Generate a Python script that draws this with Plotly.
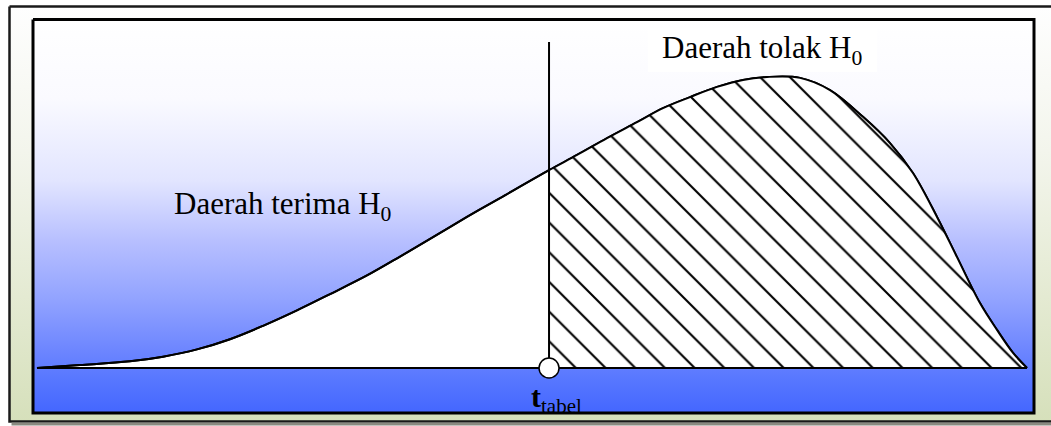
import plotly.graph_objects as go

# ---------------- data (schematic t-distribution) ----------------
t_values = [0.0, 0.434, 0.939, 1.273, 1.616, 1.949, 2.283, 2.626, 2.960, 3.333, 3.667,
            4.000, 4.343, 4.677, 5.172, 5.455, 5.758, 6.061, 6.323, 6.596, 6.869,
            7.131, 7.374, 7.707, 8.010, 8.343, 8.616, 8.848, 9.091, 9.293, 9.525,
            9.697, 9.859, 10.0]
density = [0.0, 0.010, 0.023, 0.039, 0.064, 0.099, 0.145, 0.198, 0.254, 0.318, 0.383,
           0.450, 0.519, 0.584, 0.680, 0.732, 0.790, 0.845, 0.893, 0.931, 0.966,
           0.990, 1.000, 0.997, 0.955, 0.863, 0.773, 0.670, 0.519, 0.381, 0.223,
           0.131, 0.052, 0.0]
t_crit = 5.172
crit_line_top = 1.12

label_accept = "Daerah terima H<sub>0</sub>"
label_reject = "Daerah tolak H<sub>0</sub>"
label_crit = "<b>t</b><sub>tabel</sub>"

# ---------------- layout constants ----------------
W, H = 1051, 426
OUTER = dict(x0=9.5, x1=1080, y0=6.5, y1=421.5)
INNER = dict(x0=33, x1=1034, y0=19.5, y1=413)
FONT = "Liberation Serif, Times New Roman, serif"

# data axis mapping: t=0 -> px 37, t=10 -> px 1027 ; density 0 -> py 368, 1 -> py 77
PX_PER_T = 99.0
PX_PER_D = 291.0
x2_range = [-37 / PX_PER_T, (W - 37) / PX_PER_T]
y2_range = [-(H - 368) / PX_PER_D, 368 / PX_PER_D]

fig = go.Figure()


def rect_xy(r):
    return ([r["x0"], r["x1"], r["x1"], r["x0"], r["x0"]],
            [r["y0"], r["y0"], r["y1"], r["y1"], r["y0"]])


# outer frame with gradient
ox, oy = rect_xy(OUTER)
fig.add_trace(go.Scatter(
    x=ox, y=oy, mode="lines", fill="toself",
    line=dict(color="#1a1a1a", width=2.5),
    fillgradient=dict(type="vertical",
                      colorscale=[[0, "#fefefe"], [0.35, "#f3f5ec"], [0.7, "#e4ead2"], [1, "#d6e0bb"]],
                      start=OUTER["y0"], stop=OUTER["y1"]),
    hoverinfo="skip", showlegend=False, xaxis="x", yaxis="y"))

# shadow line under outer frame
fig.add_trace(go.Scatter(
    x=[OUTER["x0"] + 2, W], y=[H - 2, H - 2], mode="lines",
    line=dict(color="#8a8a80", width=3), hoverinfo="skip", showlegend=False,
    xaxis="x", yaxis="y"))

# inner panel with white->blue gradient
ix, iy = rect_xy(INNER)
fig.add_trace(go.Scatter(
    x=ix, y=iy, mode="lines", fill="toself",
    line=dict(color="black", width=3),
    fillgradient=dict(type="vertical",
                      colorscale=[[0, "#ffffff"], [0.2, "#fafaff"], [0.41, "#e2e5ff"],
                                  [0.56, "#b8c0ff"], [0.71, "#92a3ff"], [0.83, "#7088ff"],
                                  [0.92, "#5676ff"], [1, "#4466ff"]],
                      start=INNER["y0"], stop=INNER["y1"]),
    hoverinfo="skip", showlegend=False, xaxis="x", yaxis="y"))

# ---------------- curve ----------------
# white area under the whole curve
fig.add_trace(go.Scatter(
    x=t_values, y=density, mode="lines", line=dict(color="black", width=2, shape="spline"),
    fill="tozeroy", fillcolor="white", hoverinfo="skip", showlegend=False,
    xaxis="x2", yaxis="y2"))

# hatched rejection region
rx = [t for t in t_values if t >= t_crit]
ry = [d for t, d in zip(t_values, density) if t >= t_crit]
fig.add_trace(go.Scatter(
    x=rx, y=ry, mode="lines", line=dict(color="black", width=0, shape="spline"),
    fill="tozeroy", fillcolor="white",
    fillpattern=dict(shape="\\", size=21, solidity=0.1, fgcolor="black", bgcolor="white",
                     fillmode="replace"),
    hoverinfo="skip", showlegend=False, xaxis="x2", yaxis="y2"))

# outline of curve again on top
fig.add_trace(go.Scatter(
    x=t_values, y=density, mode="lines", line=dict(color="black", width=2, shape="spline"),
    hoverinfo="skip", showlegend=False, xaxis="x2", yaxis="y2"))

# baseline
fig.add_trace(go.Scatter(
    x=[t_values[0], t_values[-1]], y=[0, 0], mode="lines", line=dict(color="black", width=2),
    hoverinfo="skip", showlegend=False, xaxis="x2", yaxis="y2"))

# critical line
fig.add_trace(go.Scatter(
    x=[t_crit, t_crit], y=[0, crit_line_top], mode="lines", line=dict(color="black", width=2),
    hoverinfo="skip", showlegend=False, xaxis="x2", yaxis="y2"))

# critical point
fig.add_trace(go.Scatter(
    x=[t_crit], y=[0], mode="markers",
    marker=dict(size=20, color="white", line=dict(color="black", width=1.5)),
    hoverinfo="skip", showlegend=False, xaxis="x2", yaxis="y2"))

# ---------------- labels ----------------
shapes = [dict(type="rect", xref="x", yref="y", x0=648, x1=877, y0=28, y1=72,
               fillcolor="white", line=dict(width=0), layer="above")]

annotations = [
    dict(text=label_reject, x=762, y=50, xref="x", yref="y", showarrow=False,
         xanchor="center", yanchor="middle", font=dict(family=FONT, size=31, color="black")),
    dict(text=label_accept, x=283, y=206, xref="x", yref="y", showarrow=False,
         xanchor="center", yanchor="middle", font=dict(family=FONT, size=31, color="black")),
    dict(text=label_crit, x=556, y=399, xref="x", yref="y", showarrow=False,
         xanchor="center", yanchor="middle", font=dict(family=FONT, size=30, color="black")),
]

axis_off = dict(visible=False, showgrid=False, zeroline=False, fixedrange=True)
fig.update_layout(
    width=W, height=H,
    margin=dict(l=0, r=0, t=0, b=0),
    paper_bgcolor="white", plot_bgcolor="white",
    showlegend=False,
    xaxis=dict(range=[0, W], domain=[0, 1], **axis_off),
    yaxis=dict(range=[H, 0], domain=[0, 1], **axis_off),
    xaxis2=dict(range=x2_range, overlaying="x", **axis_off),
    yaxis2=dict(range=y2_range, overlaying="y", **axis_off),
    shapes=shapes,
    annotations=annotations,
)

fig.write_html("out.html", config={"displayModeBar": False},
               post_script="document.body.style.margin='0px';")
